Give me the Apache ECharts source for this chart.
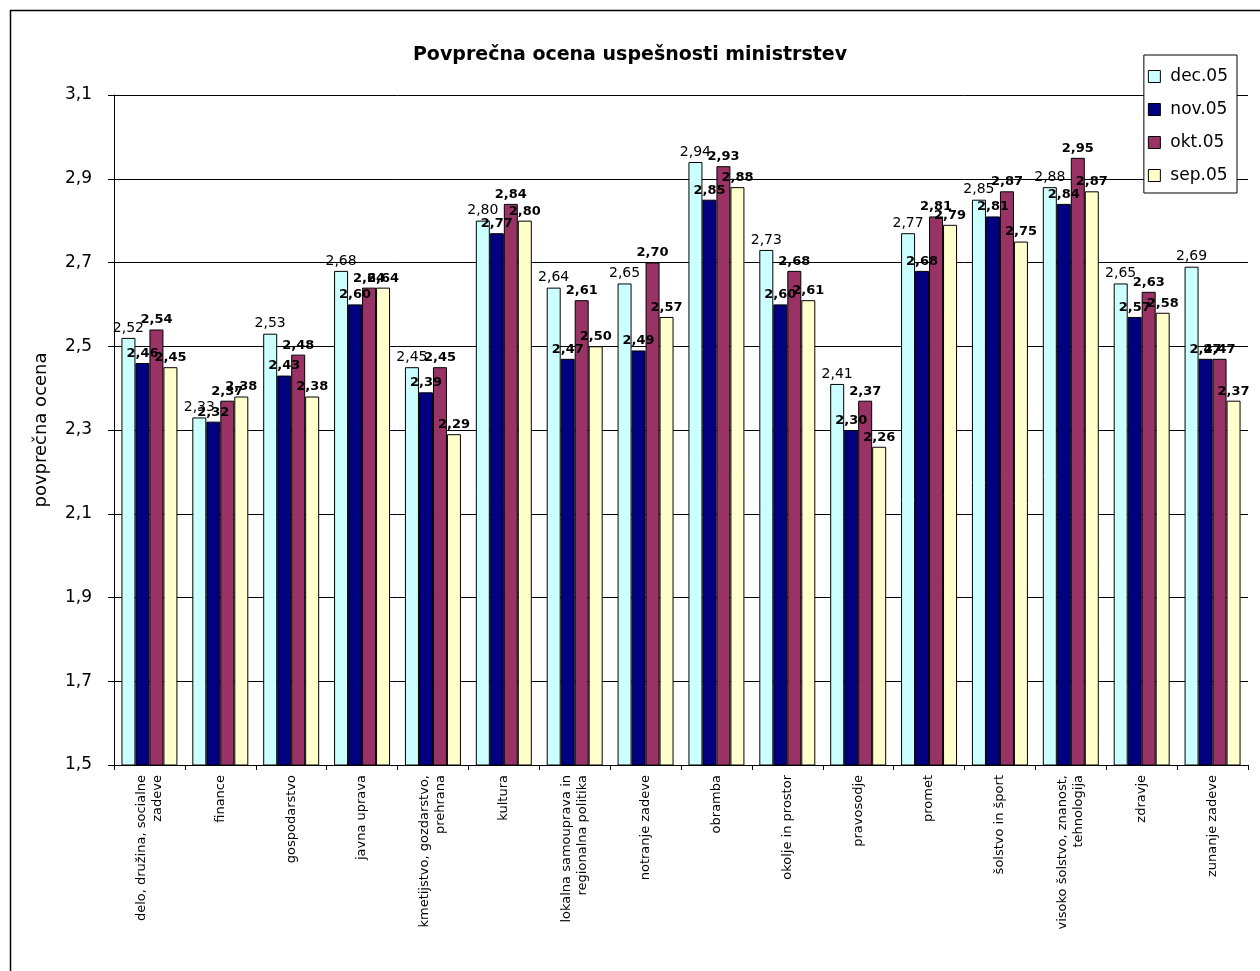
<!DOCTYPE html>
<html>
<head>
<meta charset="utf-8">
<script src="https://cdn.jsdelivr.net/npm/echarts@6/dist/echarts.min.js"></script>
<style>
html,body{margin:0;padding:0;background:#fff;}
#chart{width:1260px;height:971px;}
</style>
</head>
<body>
<div id="chart"></div>
<script>
const categories = [
  'delo, družina, socialne\nzadeve',
  'finance',
  'gospodarstvo',
  'javna uprava',
  'kmetijstvo, gozdarstvo,\nprehrana',
  'kultura',
  'lokalna samouprava in\nregionalna politika',
  'notranje zadeve',
  'obramba',
  'okolje in prostor',
  'pravosodje',
  'promet',
  'šolstvo in šport',
  'visoko šolstvo, znanost,\ntehnologija',
  'zdravje',
  'zunanje zadeve'
];
const seriesNames = ['dec.05', 'nov.05', 'okt.05', 'sep.05'];
const dec05 = [2.52, 2.33, 2.53, 2.68, 2.45, 2.80, 2.64, 2.65, 2.94, 2.73, 2.41, 2.77, 2.85, 2.88, 2.65, 2.69];
const nov05 = [2.46, 2.32, 2.43, 2.60, 2.39, 2.77, 2.47, 2.49, 2.85, 2.60, 2.30, 2.68, 2.81, 2.84, 2.57, 2.47];
const okt05 = [2.54, 2.37, 2.48, 2.64, 2.45, 2.84, 2.61, 2.70, 2.93, 2.68, 2.37, 2.81, 2.87, 2.95, 2.63, 2.47];
const sep05 = [2.45, 2.38, 2.38, 2.64, 2.29, 2.80, 2.50, 2.57, 2.88, 2.61, 2.26, 2.79, 2.75, 2.87, 2.58, 2.37];
const yMin = 1.5, yMax = 3.1, yStep = 0.2;

const colors = ['#CCFFFF', '#000080', '#993366', '#FFFFCC'];
const FONT = 'DejaVu Sans';
const allData = [dec05, nov05, okt05, sep05];

const series = allData.map((d, i) => ({
  name: seriesNames[i],
  type: 'bar',
  data: d,
  barGap: '0%',
  barCategoryGap: '21%',
  itemStyle: { color: colors[i], borderColor: '#000', borderWidth: 1 },
  label: {
    show: true,
    position: 'top',
    distance: 3,
    color: '#000',
    fontFamily: FONT,
    fontSize: i === 0 ? 14 : 13,
    fontWeight: i === 0 ? 'normal' : 'bold',
    formatter: p => p.value.toFixed(2).replace('.', ',')
  }
}));

const chart = echarts.init(document.getElementById('chart'));
chart.setOption({
  animation: false,
  backgroundColor: '#fff',
  textStyle: { fontFamily: FONT },
  graphic: [{
    type: 'rect',
    shape: { x: 10.5, y: 10.5, width: 1300, height: 1000 },
    style: { fill: 'none', stroke: '#000', lineWidth: 1.5 },
    silent: true,
    z: -10
  }],
  title: {
    text: 'Povprečna ocena uspešnosti ministrstev',
    left: 'center',
    top: 41,
    textStyle: { fontFamily: FONT, fontSize: 19, fontWeight: 'bold', color: '#000' }
  },
  legend: {
    data: seriesNames,
    orient: 'vertical',
    right: 23,
    top: 55,
    padding: [13, 9, 9, 4],
    itemGap: 16,
    itemWidth: 12,
    itemHeight: 12,
    icon: 'rect',
    borderColor: '#000',
    borderWidth: 1,
    backgroundColor: '#fff',
    textStyle: { fontFamily: FONT, fontSize: 17, color: '#000', padding: [0, 0, 0, 5] },
    itemStyle: { borderColor: '#000', borderWidth: 1 },
    z: 10
  },
  grid: { left: 114, right: 12, top: 95, bottom: 206, containLabel: false },
  xAxis: {
    type: 'category',
    data: categories,
    axisLine: { lineStyle: { color: '#000', width: 1 } },
    axisTick: { show: true, length: 5, lineStyle: { color: '#000' } },
    axisLabel: {
      interval: 0,
      rotate: 90,
      margin: 10,
      fontFamily: FONT,
      fontSize: 13,
      color: '#000',
      lineHeight: 16
    }
  },
  yAxis: {
    type: 'value',
    min: yMin,
    max: yMax,
    interval: yStep,
    name: 'povprečna ocena',
    nameLocation: 'middle',
    nameGap: 64,
    nameTextStyle: { fontFamily: FONT, fontSize: 18, color: '#000' },
    axisLine: { show: true, lineStyle: { color: '#000' } },
    axisTick: { show: true, length: 6, lineStyle: { color: '#000' } },
    axisLabel: {
      margin: 22,
      fontFamily: FONT,
      fontSize: 17,
      color: '#000',
      formatter: v => v.toFixed(1).replace('.', ',')
    },
    splitLine: { show: true, lineStyle: { color: '#000', width: 1 } }
  },
  series: series
});
</script>
</body>
</html>
